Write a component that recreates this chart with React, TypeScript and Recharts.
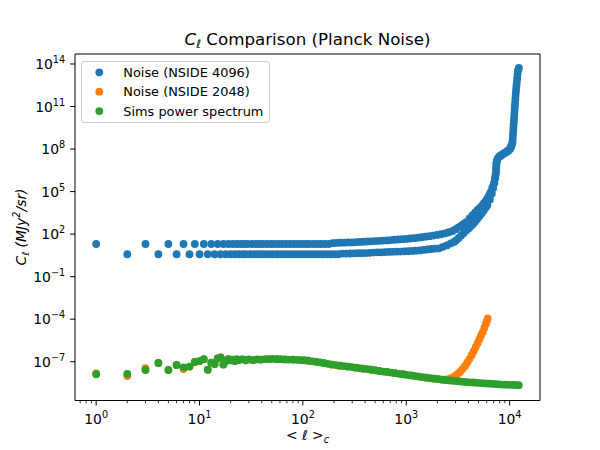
import { ScatterChart, Scatter, XAxis, YAxis, ReferenceArea, Customized } from 'recharts'

// values (log–log axes), [ell, C_ell]
const NOISE_4096_ODD: [number, number][] = [
  [1, 20], [3, 20], [5, 20], [7, 20], [9, 20], [11, 20], [13, 20], [15, 20], [17, 20], [19, 20],
  [21, 20], [23, 20], [25, 20], [27, 20], [29, 20], [32, 20], [35, 20], [38, 20], [41, 20], [45, 20],
  [49, 20], [53, 20], [58, 20], [63, 20], [69, 20], [75, 20], [82, 20], [89, 20], [97, 20], [106, 20],
  [115, 20], [126, 20], [137, 20], [149, 20], [163, 20], [178, 20], [194, 23], [211, 24], [230, 25], [251, 25],
  [274, 26], [298, 26], [325, 27], [354, 28], [386, 29], [421, 30], [459, 31], [500, 32], [545, 33], [594, 35],
  [648, 36], [706, 38], [770, 40], [839, 42], [915, 44], [997, 46], [1087, 49], [1185, 52], [1291, 56], [1408, 60],
  [1534, 66], [1673, 72], [1823, 79], [1987, 87], [2166, 98], [2361, 112], [2574, 135], [2805, 166],
  [3020, 224], [3200, 300], [3400, 400], [3600, 520], [3800, 710], [4100, 1260], [4373, 2200], [4630, 3300],
  [4900, 5000], [5150, 7100], [5400, 1.0e4], [5640, 1.5e4], [5893, 2.2e4], [6100, 3.3e4], [6300, 5.0e4],
  [6450, 7.1e4], [6600, 1.0e5], [6823, 2.0e5], [7050, 4.0e5], [7200, 7.9e5], [7300, 1.4e6], [7380, 2.5e6],
  [7420, 5.0e6], [7460, 1.0e7], [7600, 1.8e7], [7920, 2.9e7], [8300, 3.7e7], [8700, 4.6e7], [9050, 5.5e7],
  [9400, 6.6e7], [9700, 7.6e7], [10000, 9.5e7], [10300, 1.4e8], [10500, 2.0e8], [10660, 3.2e8], [10770, 1.0e9],
  [10880, 3.2e9], [11000, 1.0e10], [11120, 3.2e10], [11240, 1.0e11], [11360, 3.2e11], [11490, 1.0e12],
  [11660, 3.2e12], [11840, 1.0e13], [12020, 3.2e13], [12287, 5.2e13],
]

const NOISE_4096_EVEN: [number, number][] = [
  [2, 3.8], [4, 3.8], [6, 3.8], [8, 3.8], [10, 3.8], [12, 3.8], [14, 3.8], [16, 3.8], [18, 3.8], [20, 3.8],
  [22, 3.8], [24, 3.8], [26, 3.8], [28, 3.8], [31, 3.8], [34, 3.8], [37, 3.8], [40, 3.8], [43, 3.8], [47, 3.8],
  [51, 3.8], [56, 3.8], [61, 3.8], [66, 3.8], [72, 3.8], [79, 3.8], [86, 3.8], [93, 3.8], [102, 3.8], [111, 3.8],
  [121, 3.8], [132, 3.8], [143, 3.8], [156, 3.8], [170, 3.8], [186, 3.8], [203, 3.8], [221, 3.8], [241, 4.2],
  [262, 4.2], [286, 4.3], [312, 4.4], [340, 4.5], [370, 4.5], [404, 4.6], [440, 4.8], [480, 5.0], [523, 5.1],
  [570, 5.2], [621, 5.3], [677, 5.5], [738, 5.6], [805, 5.8], [877, 5.9], [956, 6.0], [1042, 6.2], [1136, 6.5],
  [1238, 6.8], [1350, 7.1], [1471, 7.6], [1604, 8.3], [1748, 8.9], [1906, 9.5], [2077, 10], [2264, 12.6],
  [2468, 16], [2690, 22], [2900, 28], [3020, 35], [3200, 52], [3400, 79], [3600, 120], [3800, 178], [4000, 251],
  [4200, 355], [4400, 501], [4600, 708], [4850, 1100], [5100, 1800], [5350, 2800], [5600, 4500], [5850, 7100],
  [6100, 1.1e4], [6450, 2.8e4], [6720, 7.1e4], [6950, 1.8e5], [7130, 4.0e5], [7260, 8.9e5], [7350, 2.0e6],
  [7400, 4.0e6], [7440, 7.9e6], [7520, 1.4e7], [7750, 2.4e7], [8100, 3.3e7], [8500, 4.2e7], [8870, 5.0e7],
  [9220, 6.0e7], [9550, 7.1e7], [9850, 8.5e7], [10150, 1.1e8], [10400, 1.7e8], [10600, 2.5e8], [10720, 5.6e8],
  [10830, 1.8e9], [10940, 5.6e9], [11060, 1.8e10], [11180, 5.6e10], [11300, 1.8e11], [11420, 5.6e11],
  [11570, 1.8e12], [11750, 5.6e12], [11930, 1.8e13], [12150, 4.0e13],
]

const NOISE_2048: [number, number][] = [
  [1, 1.5e-8], [2, 9.8e-9], [3, 3.5e-8], [4, 8.1e-8], [5, 2.6e-8], [6, 5.9e-8], [7, 3.0e-8], [8, 4.5e-8],
  [9, 9.5e-8], [10, 1.1e-7], [11, 1.5e-7], [12, 2.7e-8], [13, 8.5e-8], [14, 6.9e-8], [15, 1.7e-7], [16, 2.0e-7],
  [17, 6.3e-8], [18, 1.12e-7], [19, 1.5e-7], [20, 1.26e-7], [22, 1.12e-7], [24, 1.3e-7], [28, 1.26e-7],
  [33, 1.3e-7], [39, 1.4e-7], [47, 1.5e-7], [56, 1.5e-7], [67, 1.45e-7], [80, 1.4e-7], [95, 1.3e-7],
  [113, 1.17e-7], [135, 9.8e-8], [161, 7.9e-8], [191, 6.3e-8], [228, 5.2e-8], [272, 4.5e-8], [324, 3.8e-8],
  [386, 3.2e-8], [460, 2.7e-8], [548, 2.2e-8], [654, 1.9e-8], [779, 1.55e-8], [929, 1.3e-8], [1107, 1.07e-8],
  [1320, 8.9e-9], [1573, 7.4e-9], [1875, 6.3e-9], [2047, 5.8e-9], [2235, 5.5e-9], [2440, 5.6e-9],
  [2664, 6.6e-9], [2909, 8.9e-9], [3100, 1.26e-8], [3300, 1.9e-8], [3500, 3.0e-8], [3700, 5.0e-8],
  [3900, 8.9e-8], [4100, 1.6e-7], [4300, 3.0e-7], [4500, 5.6e-7], [4700, 1.1e-6], [4900, 2.0e-6],
  [5100, 3.8e-6], [5300, 7.1e-6], [5500, 1.26e-5], [5700, 2.4e-5], [5900, 4.8e-5], [6050, 7.9e-5],
  [6143, 1.15e-4],
]

const SIMS: [number, number][] = [
  [1, 1.3e-8], [2, 1.4e-8], [3, 2.6e-8], [4, 8.1e-8], [5, 2.6e-8], [6, 5.9e-8], [7, 4.0e-8], [8, 4.5e-8],
  [9, 9.5e-8], [10, 1.1e-7], [11, 1.5e-7], [12, 2.7e-8], [13, 8.5e-8], [14, 6.9e-8], [15, 1.7e-7], [16, 2.0e-7],
  [17, 6.3e-8], [18, 1.12e-7], [19, 1.5e-7], [20, 1.26e-7], [21, 1.4e-7], [22, 1.12e-7], [23, 1.5e-7],
  [24, 1.3e-7], [26, 1.5e-7], [28, 1.26e-7], [30, 1.45e-7], [33, 1.3e-7], [36, 1.45e-7], [39, 1.4e-7],
  [43, 1.5e-7], [47, 1.5e-7], [51, 1.6e-7], [56, 1.5e-7], [61, 1.5e-7], [67, 1.45e-7], [73, 1.4e-7],
  [80, 1.4e-7], [87, 1.35e-7], [95, 1.3e-7], [104, 1.26e-7], [113, 1.17e-7], [124, 1.07e-7], [135, 9.8e-8],
  [147, 8.9e-8], [161, 7.9e-8], [175, 7.1e-8], [191, 6.3e-8], [209, 5.8e-8], [228, 5.2e-8], [249, 4.9e-8],
  [272, 4.5e-8], [297, 4.2e-8], [324, 3.8e-8], [354, 3.5e-8], [386, 3.2e-8], [422, 3.0e-8], [460, 2.7e-8],
  [502, 2.5e-8], [548, 2.2e-8], [599, 2.0e-8], [654, 1.9e-8], [714, 1.7e-8], [779, 1.55e-8], [851, 1.4e-8],
  [929, 1.3e-8], [1014, 1.17e-8], [1107, 1.07e-8], [1209, 9.8e-9], [1320, 8.9e-9], [1441, 8.1e-9],
  [1573, 7.4e-9], [1717, 6.8e-9], [1875, 6.3e-9], [2047, 5.8e-9], [2235, 5.4e-9], [2440, 5.0e-9],
  [2664, 4.7e-9], [2909, 4.4e-9], [3176, 4.2e-9], [3467, 3.9e-9], [3785, 3.7e-9], [4133, 3.5e-9],
  [4512, 3.4e-9], [4926, 3.2e-9], [5378, 3.1e-9], [5872, 2.95e-9], [6411, 2.8e-9], [7000, 2.7e-9],
  [7642, 2.6e-9], [8343, 2.45e-9], [9109, 2.4e-9], [9945, 2.35e-9], [10858, 2.3e-9], [11500, 2.25e-9],
  [12287, 2.2e-9],
]

const SERIES_NAMES = ['Noise (NSIDE 4096)', 'Noise (NSIDE 2048)', 'Sims power spectrum']
const SERIES_COLORS = ['#1f77b4', '#ff7f0e', '#2ca02c']

const X_MAJOR = [1, 10, 100, 1000, 10000]
const X_MAJOR_EXP = ['0', '1', '2', '3', '4']
const X_MINOR = [
  0.7, 0.8, 0.9, 2, 3, 4, 5, 6, 7, 8, 9, 20, 30, 40, 50, 60, 70, 80, 90,
  200, 300, 400, 500, 600, 700, 800, 900, 2000, 3000, 4000, 5000, 6000, 7000, 8000, 9000,
]
const Y_MAJOR = [1e-7, 1e-4, 1e-1, 1e2, 1e5, 1e8, 1e11, 1e14]
const Y_MAJOR_EXP = ['\u22127', '\u22124', '\u22121', '2', '5', '8', '11', '14']

const X_DOMAIN = [0.624, 19680]
const Y_DOMAIN = [1.83e-10, 5.07e14]

const FONT = '"DejaVu Sans", sans-serif'
const DOT_R = 3.9

const toPoints = (rows: [number, number][]) => rows.map(([ell, cl]) => ({ ell, cl }))

function dot(color: string) {
  return (props: any) => <circle cx={props.cx} cy={props.cy} r={DOT_R} fill={color} />
}

function XTick({ x, y, payload }: any) {
  const i = X_MAJOR.indexOf(payload.value)
  if (i < 0) return <line x1={x} x2={x} y1={y} y2={y + 2.8} stroke="#000" strokeWidth={0.8} />
  return (
    <g>
      <line x1={x} x2={x} y1={y} y2={y + 4.9} stroke="#000" strokeWidth={1} />
      <text x={x} y={y + 23} textAnchor="middle" fontSize={13.9} fontFamily={FONT} fill="#000">
        10<tspan dy={-6} fontSize={9.7}>{X_MAJOR_EXP[i]}</tspan>
      </text>
    </g>
  )
}

function YTick({ x, y, payload }: any) {
  const i = Y_MAJOR.indexOf(payload.value)
  return (
    <g>
      <line x1={x - 4.9} x2={x} y1={y} y2={y} stroke="#000" strokeWidth={1} />
      <text x={x - 9.8} y={y + 5} textAnchor="end" fontSize={13.9} fontFamily={FONT} fill="#000">
        10<tspan dy={-6} fontSize={9.7}>{Y_MAJOR_EXP[i]}</tspan>
      </text>
    </g>
  )
}

function Labels() {
  return (
    <g fontFamily={FONT} fill="#000">
      <text x={307.5} y={45} textAnchor="middle" fontSize={16.7}>
        <tspan fontStyle="italic">C</tspan>
        <tspan fontStyle="italic" fontSize={11.7} dy={3}>ℓ</tspan>
        <tspan dy={-3}> Comparison (Planck Noise)</tspan>
      </text>
      <text x={307.5} y={440} textAnchor="middle" fontSize={13.9}>
        {'< '}<tspan fontStyle="italic">ℓ</tspan>{' >'}
        <tspan fontStyle="italic" fontSize={9.7} dy={3}>c</tspan>
      </text>
      <text transform="translate(26,227) rotate(-90)" textAnchor="middle" fontSize={13.9} fontStyle="italic">
        C<tspan fontSize={9.7} dy={3}>ℓ</tspan>
        <tspan dy={-3}> (MJy</tspan>
        <tspan fontSize={9.7} dy={-6}>2</tspan>
        <tspan dy={6}>/sr)</tspan>
      </text>
    </g>
  )
}

// legend frame in the upper-left corner of the plot
function LegendBox() {
  return (
    <g fontFamily={FONT} fontSize={12.9}>
      <rect x={81.5} y={61.5} width={188} height={61} rx={2.5} fill="#ffffff" stroke="#cccccc" strokeWidth={1} />
      {SERIES_NAMES.map((name, i) => (
        <g key={name}>
          <circle cx={99.3} cy={72.3 + i * 19.4} r={DOT_R} fill={SERIES_COLORS[i]} />
          <text x={123.3} y={77 + i * 19.4} fill="#000">{name}</text>
        </g>
      ))}
    </g>
  )
}

export default function App() {
  const blue = [...toPoints(NOISE_4096_ODD), ...toPoints(NOISE_4096_EVEN)]
  return (
    <div style={{ position: 'absolute', left: 0, top: 0 }}>
      <ScatterChart width={600} height={450} margin={{ top: 54, right: 60, bottom: 0, left: 0 }}>
        <XAxis
          dataKey="ell" type="number" scale="log" domain={X_DOMAIN} allowDataOverflow
          ticks={[...X_MINOR, ...X_MAJOR]} interval={0} tick={<XTick />}
          tickLine={false} axisLine={false} tickSize={0} tickMargin={0} height={49.5}
        />
        <YAxis
          dataKey="cl" type="number" scale="log" domain={Y_DOMAIN} allowDataOverflow
          ticks={Y_MAJOR} interval={0} tick={<YTick />}
          tickLine={false} axisLine={false} tickSize={0} tickMargin={0} width={75}
        />
        <ReferenceArea
          x1={X_DOMAIN[0]} x2={X_DOMAIN[1]} y1={Y_DOMAIN[0]} y2={Y_DOMAIN[1]}
          fill="none" stroke="#000" strokeWidth={1} ifOverflow="visible"
        />
        <Scatter name={SERIES_NAMES[0]} data={blue} shape={dot(SERIES_COLORS[0])} isAnimationActive={false} />
        <Scatter name={SERIES_NAMES[1]} data={toPoints(NOISE_2048)} shape={dot(SERIES_COLORS[1])} isAnimationActive={false} />
        <Scatter name={SERIES_NAMES[2]} data={toPoints(SIMS)} shape={dot(SERIES_COLORS[2])} isAnimationActive={false} />
        <Customized component={<LegendBox />} />
        <Customized component={<Labels />} />
      </ScatterChart>
    </div>
  )
}
